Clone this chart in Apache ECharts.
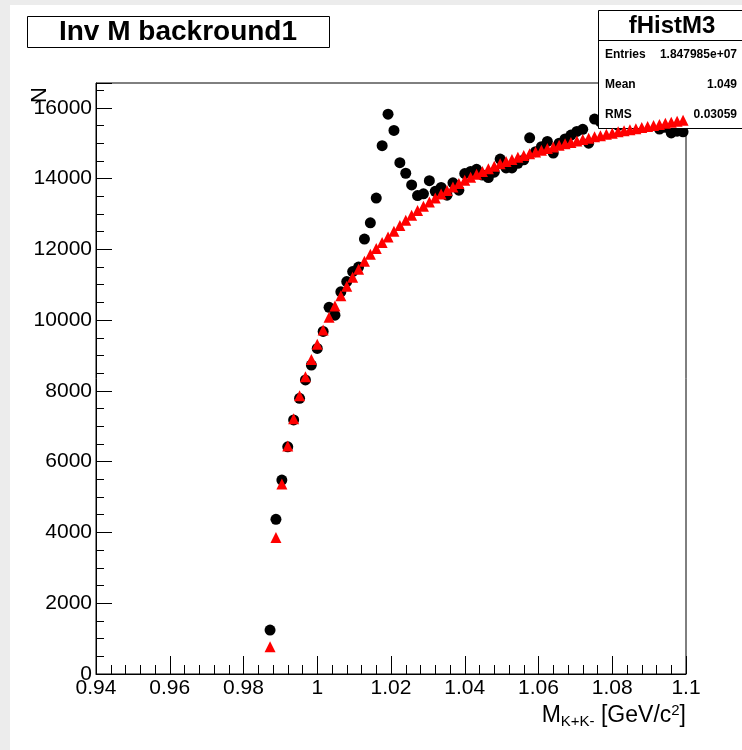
<!DOCTYPE html>
<html>
<head>
<meta charset="utf-8">
<script src="https://cdn.jsdelivr.net/npm/echarts@6/dist/echarts.min.js"></script>
<style>
html,body{margin:0;padding:0;background:#fff;}
#chart{width:742px;height:750px;}
</style>
</head>
<body>
<div id="chart"></div>
<script>
// bin centres of M(K+K-) [GeV/c^2]
const massCenters = [0.9872,0.9888,0.9904,0.9920,0.9936,0.9952,0.9968,0.9984,1.0000,1.0016,1.0032,1.0048,
  1.0064,1.0080,1.0096,1.0112,1.0128,1.0144,1.0160,1.0176,1.0192,1.0208,1.0224,1.0240,1.0256,1.0272,1.0288,1.0304,1.0320,1.0336,1.0352,1.0368,1.0384,
  1.0400,1.0416,1.0432,1.0448,1.0464,1.0480,1.0496,1.0512,1.0528,1.0544,1.0560,1.0576,1.0592,1.0608,1.0624,1.0640,1.0656,1.0672,1.0688,1.0704,1.0720,1.0736,1.0752,
  1.0768,1.0784,1.0800,1.0816,1.0832,1.0848,1.0864,1.0880,1.0896,1.0912,1.0928,1.0944,1.0960,1.0976,1.0992];
// fHistM3 (black markers)
const histCounts = [1240,4370,5480,6420,7180,7790,8310,8730,9200,9680,10360,10140,
  10800,11090,11370,11500,12290,12750,13450,14930,15820,15360,14450,14150,13820,13520,13570,13940,13640,13750,13530,13880,13670,
  14140,14200,14260,14100,14030,14180,14550,14300,14300,14430,14530,15150,14760,14900,15050,14720,15000,15120,15230,15330,15390,15000,15680,
  15600,15560,15620,15500,15580,15600,15520,15560,15600,15500,15400,15450,15290,15340,15320];
// background curve (red triangles)
const bgCounts = [770,3860,5370,6440,7210,7860,8400,8890,9320,9720,10080,10400,
  10690,10960,11210,11440,11660,11860,12020,12190,12350,12510,12670,12820,12960,13100,13220,13340,13450,13560,13660,13760,13860,
  13950,14040,14120,14200,14280,14350,14420,14480,14540,14600,14650,14700,14750,14800,14850,14890,14940,14980,15020,15060,15100,15140,15180,
  15210,15250,15280,15320,15350,15380,15410,15440,15470,15500,15530,15560,15590,15620,15650];
const histTitle = 'Inv M backround1';
const statsName = 'fHistM3';
const statsLabels = ['Entries','Mean','RMS'];
const statsValues = ['1.847985e+07','1.049','0.03059'];
const yTitle = 'N';

const FONT = '"Liberation Sans", Arial, Helvetica, sans-serif';
const chart = echarts.init(document.getElementById('chart'), null, {renderer:'canvas'});

const graphics = [
  {type:'rect', shape:{x:0,y:0,width:10,height:750}, style:{fill:'#ececec'}, z:0, silent:true},
  {type:'rect', shape:{x:0,y:0,width:742,height:5}, style:{fill:'#ececec'}, z:0, silent:true},
  {type:'rect', shape:{x:27.5,y:16.5,width:302,height:31}, style:{fill:'#fff', stroke:'#000', lineWidth:1}, z:40},
  {type:'text', x:178, y:32, style:{text:histTitle, font:'bold 28px '+FONT, fill:'#000', align:'center', verticalAlign:'middle'}, z:41},
  {type:'rect', shape:{x:598.5,y:10.5,width:160,height:118}, style:{fill:'#fff', stroke:'#000', lineWidth:1}, z:40},
  {type:'line', shape:{x1:598.5,y1:40.5,x2:742,y2:40.5}, style:{stroke:'#000', lineWidth:1}, z:41},
  {type:'text', x:672, y:26, style:{text:statsName, font:'bold 24px '+FONT, fill:'#000', align:'center', verticalAlign:'middle'}, z:41},
  {type:'text', x:40, y:95, rotation:Math.PI/2, style:{text:yTitle, font:'22px '+FONT, fill:'#000', align:'center', verticalAlign:'middle'}, z:41},
  {type:'text', x:686, y:716, style:{
      text:'{m|M}{sub|K+K-}{m| [GeV/c}{sup|2}{m|]}', align:'right', verticalAlign:'middle',
      rich:{
        m:{font:'23px '+FONT, fill:'#000', verticalAlign:'middle', lineHeight:26},
        sub:{font:'15px '+FONT, fill:'#000', verticalAlign:'bottom', lineHeight:26, padding:[11,0,0,0]},
        sup:{font:'15px '+FONT, fill:'#000', verticalAlign:'top', lineHeight:26, padding:[0,0,9,0]}
      }}, z:41}
];
const rowsY = [55,85,115];
statsLabels.forEach((lab,i)=>{
  graphics.push({type:'text', x:605, y:rowsY[i], style:{text:lab, font:'bold 12px '+FONT, fill:'#000', align:'left', verticalAlign:'middle'}, z:41});
  graphics.push({type:'text', x:737, y:rowsY[i], style:{text:statsValues[i], font:'bold 12px '+FONT, fill:'#000', align:'right', verticalAlign:'middle'}, z:41});
});

chart.setOption({
  animation:false,
  backgroundColor:'#fff',
  grid:{left:96, right:56, top:83, bottom:76, show:true, borderColor:'#000', borderWidth:1, backgroundColor:'transparent'},
  xAxis:{
    type:'value', min:0.94, max:1.1, interval:0.02,
    axisLine:{show:true, lineStyle:{color:'#000', width:1}},
    axisTick:{show:true, inside:true, length:18, lineStyle:{color:'#000', width:1}},
    minorTick:{show:true, splitNumber:5, length:9, lineStyle:{color:'#000', width:1}},
    splitLine:{show:false},
    axisLabel:{color:'#000', fontSize:21, fontFamily:FONT, margin:4,
      formatter:function(v){return String(Math.round(v*100)/100);}}
  },
  yAxis:{
    type:'value', min:0, max:16700, interval:2000,
    axisLine:{show:true, lineStyle:{color:'#000', width:1}},
    axisTick:{show:true, inside:true, length:16, lineStyle:{color:'#000', width:1}},
    minorTick:{show:true, splitNumber:4, length:8, lineStyle:{color:'#000', width:1}},
    splitLine:{show:false},
    axisLabel:{color:'#000', fontSize:21, fontFamily:FONT, margin:4, showMaxLabel:false,
      formatter:function(v){return (v % 2000 === 0) ? String(v) : '';}}
  },
  series:[
    {type:'scatter', name:statsName, data:massCenters.map((m,i)=>[m,histCounts[i]]),
      symbol:'circle', symbolSize:11, itemStyle:{color:'#000', opacity:1}, z:2},
    {type:'scatter', name:'background', data:massCenters.map((m,i)=>[m,bgCounts[i]]),
      symbol:'triangle', symbolSize:11, itemStyle:{color:'#ff0000', opacity:1}, z:60}
  ],
  graphic:{elements:graphics}
});
</script>
</body>
</html>
